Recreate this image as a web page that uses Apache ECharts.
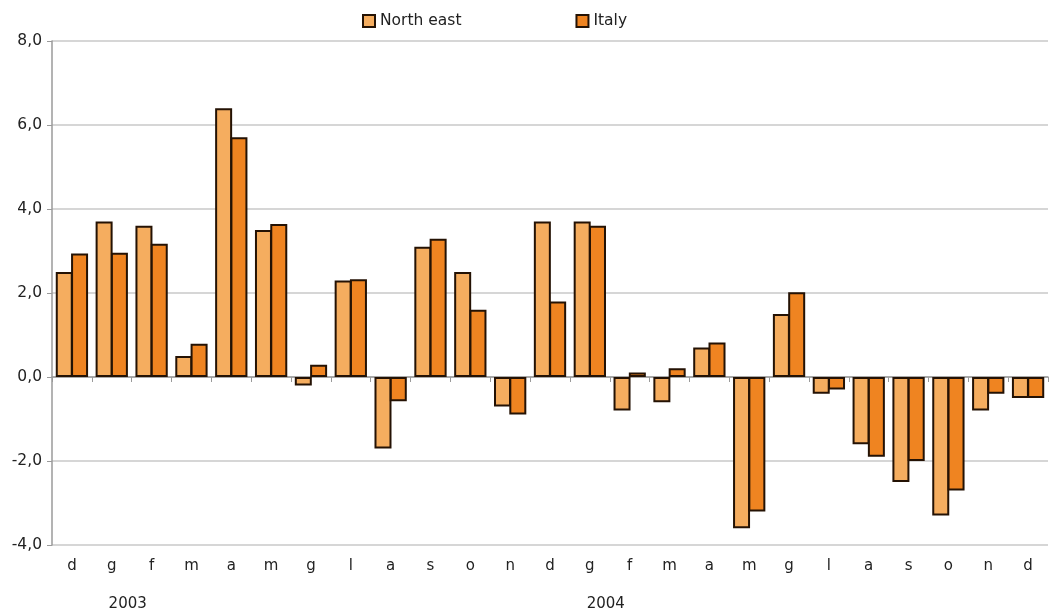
<!DOCTYPE html>
<html>
<head>
<meta charset="utf-8">
<script src="https://cdn.jsdelivr.net/npm/echarts@6/dist/echarts.min.js"></script>
<style>
  html, body { margin: 0; padding: 0; background: #ffffff; }
  #chart { width: 1054px; height: 612px; }
</style>
</head>
<body>
<div id="chart"></div>
<script>
// Monthly months (Italian initials), Dec 2002 to Dec 2004
const months = ['d','g','f','m','a','m','g','l','a','s','o','n','d','g','f','m','a','m','g','l','a','s','o','n','d'];
const yearLabels = [
  { text: '2003', between: [1, 2] },
  { text: '2004', between: [13, 14] }
];
const northEast = [2.5, 3.7, 3.6, 0.5, 6.4, 3.5, -0.2, 2.3, -1.7, 3.1, 2.5, -0.7, 3.7, 3.7, -0.8, -0.6, 0.7, -3.6, 1.5, -0.4, -1.6, -2.5, -3.3, -0.8, -0.5];
const italy = [2.94, 2.96, 3.17, 0.79, 5.71, 3.64, 0.29, 2.33, -0.58, 3.29, 1.6, -0.89, 1.8, 3.6, 0.11, 0.21, 0.82, -3.2, 2.02, -0.3, -1.9, -2.0, -2.7, -0.4, -0.5];

const FONT = 'DejaVu Sans';
const chart = echarts.init(document.getElementById('chart'), null, { renderer: 'canvas' });

const barBorder = { borderColor: '#241204', borderWidth: 2 };

chart.setOption({
  animation: false,
  backgroundColor: '#ffffff',
  textStyle: { fontFamily: FONT },
  legend: {
    top: 8,
    left: 357,
    itemGap: 114,
    itemWidth: 12,
    itemHeight: 12,
    icon: 'rect',
    textStyle: { fontFamily: FONT, fontSize: 15.5, color: '#222' },
    data: ['North east', 'Italy']
  },
  grid: { left: 52, right: 6, top: 41, bottom: 67, containLabel: false },
  xAxis: [
    {
      type: 'category',
      data: months,
      position: 'bottom',
      axisLine: { show: false, onZero: false },
      axisTick: { show: false },
      axisLabel: { fontFamily: FONT, fontSize: 15, color: '#222', margin: 14 }
    },
    {
      type: 'category',
      data: months,
      position: 'bottom',
      axisLine: { show: true, onZero: true, lineStyle: { color: '#9a9a9a', width: 1.5 } },
      axisTick: { show: true, length: 5, lineStyle: { color: '#9a9a9a' } },
      axisLabel: { show: false }
    }
  ],
  yAxis: {
    type: 'value',
    min: -4,
    max: 8,
    interval: 2,
    axisLine: { show: true, lineStyle: { color: '#9a9a9a', width: 1.5 } },
    axisTick: { show: true, length: 5, lineStyle: { color: '#9a9a9a' } },
    splitLine: { show: true, lineStyle: { color: '#c8c8c8', width: 1.5 } },
    axisLabel: {
      fontFamily: FONT, fontSize: 15.5, color: '#222', margin: 10,
      formatter: v => v.toFixed(1).replace('.', ',')
    }
  },
  series: [
    {
      name: 'North east',
      type: 'bar',
      data: northEast,
      barWidth: 17,
      barGap: '-10%',
      itemStyle: Object.assign({ color: '#f5ad5f' }, barBorder)
    },
    {
      name: 'Italy',
      type: 'bar',
      data: italy,
      barWidth: 17,
      barGap: '-10%',
      itemStyle: Object.assign({ color: '#ef8421' }, barBorder)
    }
  ]
});

// Year captions below the month labels, centred between two months
const baseY = chart.convertToPixel({ yAxisIndex: 0 }, -4);
chart.setOption({
  graphic: yearLabels.map(y => {
    const a = chart.convertToPixel({ xAxisIndex: 0 }, y.between[0]);
    const b = chart.convertToPixel({ xAxisIndex: 0 }, y.between[1]);
    return {
      type: 'text',
      x: (a + b) / 2 - 4,
      y: baseY + 59,
      style: { text: y.text, fontFamily: FONT, fontSize: 15, fill: '#222', align: 'center', verticalAlign: 'middle' }
    };
  })
});
</script>
</body>
</html>
